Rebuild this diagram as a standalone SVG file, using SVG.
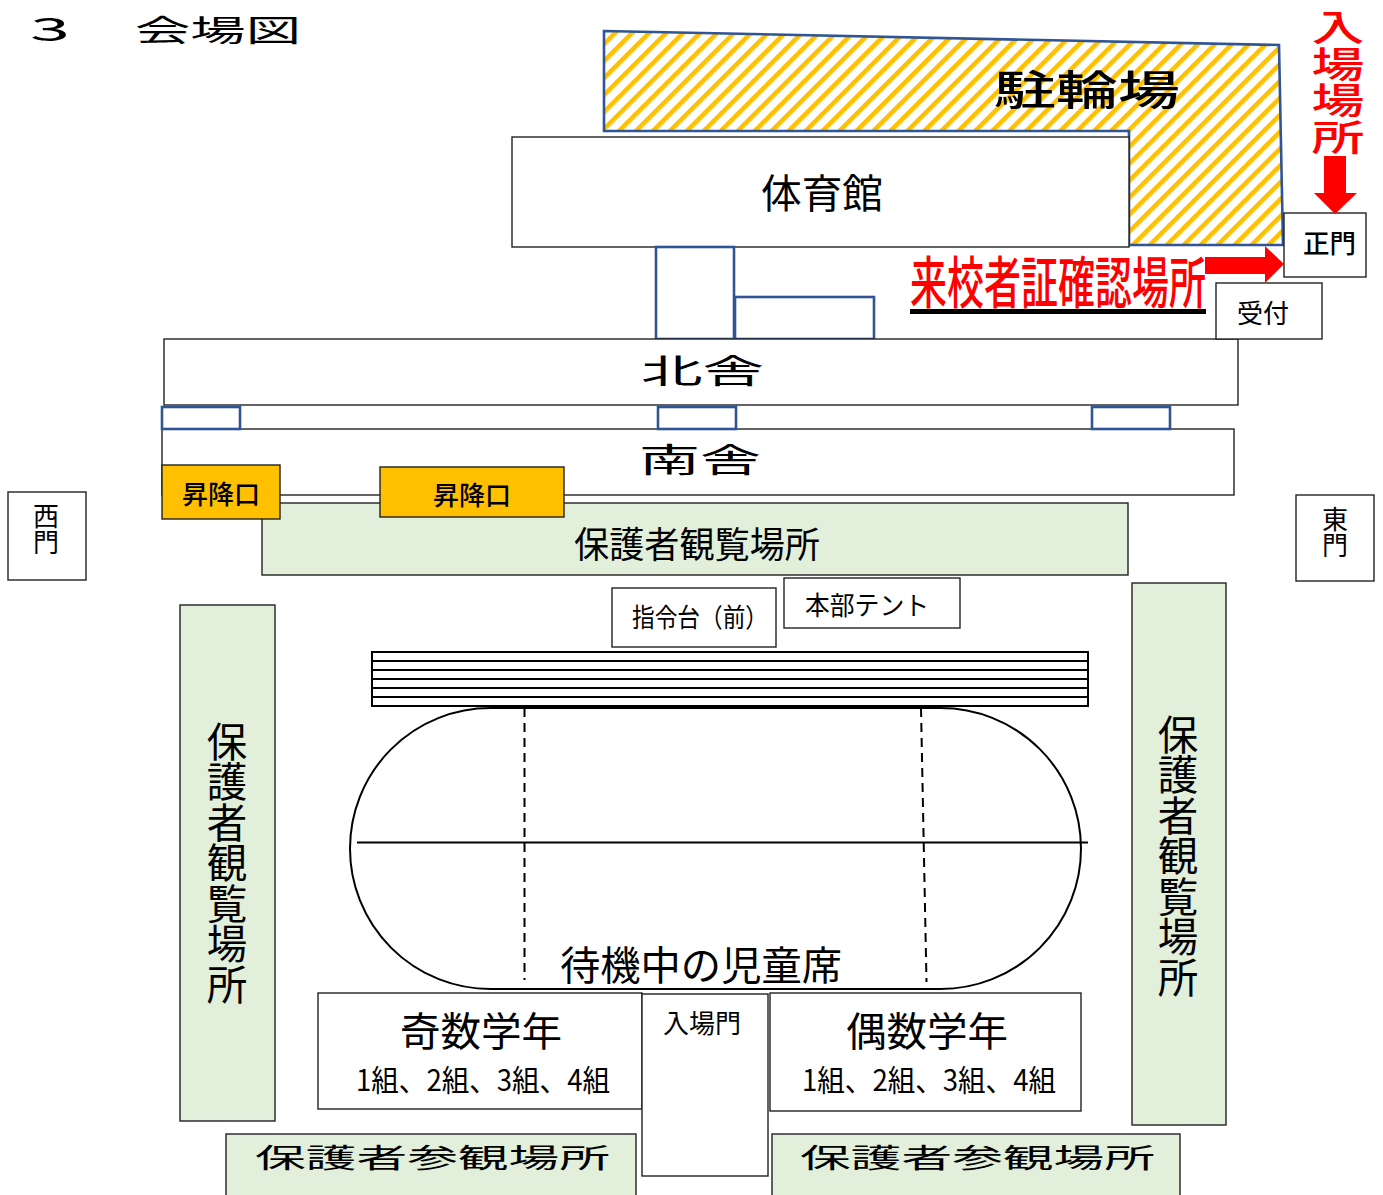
<svg xmlns="http://www.w3.org/2000/svg" width="1383" height="1195" viewBox="0 0 1383 1195">
<style>
text{font-family:"Noto Sans CJK JP","Noto Sans CJK SC",sans-serif;fill:#000;font-weight:400}
.b{fill:#fff;stroke:#222;stroke-width:1.4}
.g{fill:#e2efda;stroke:#222;stroke-width:1.4}
.o{fill:#ffc000;stroke:#222;stroke-width:1.4}
.bl{fill:#fff;stroke:#2f5597;stroke-width:2.6}
.k{fill:none;stroke:#000;stroke-width:2}
.s{fill:#fff;stroke:#000;stroke-width:2}
.d{fill:none;stroke:#000;stroke-width:2;stroke-dasharray:9 6}
.v{writing-mode:vertical-rl;text-anchor:middle}
.red{fill:#f00;font-weight:500}
.bd{font-weight:500}
</style>
<defs>
<pattern id="hatch" width="12" height="12" patternUnits="userSpaceOnUse" patternTransform="rotate(45)">
<rect width="12" height="12" fill="#fff"/><rect width="4.6" height="12" fill="#ffc000"/>
</pattern>
</defs>
<g id="title"><text x="30" y="41" font-size="32" textLength="40" lengthAdjust="spacingAndGlyphs">3</text><text x="135" y="41" font-size="30" textLength="166" lengthAdjust="spacingAndGlyphs">会場図</text></g>
<g id="bicycle"><polygon points="604,31 1279,45 1283,245 1129,245 1129,131 604,131" fill="url(#hatch)" stroke="#2f5597" stroke-width="2.6"/><text x="994" y="105" font-size="41" textLength="186" lengthAdjust="spacingAndGlyphs" class="bd">駐輪場</text></g>
<g id="gym"><rect x="512" y="137" width="617" height="110" class="b"/><text x="761" y="208" font-size="40" textLength="122" lengthAdjust="spacingAndGlyphs">体育館</text></g>
<g id="link1"><rect x="656" y="247" width="78" height="92" class="bl"/></g>
<g id="link2"><rect x="735" y="297" width="139" height="42" class="bl"/></g>
<g id="north"><rect x="164" y="339" width="1074" height="66" class="b"/><text x="641" y="383" font-size="33" textLength="123" lengthAdjust="spacingAndGlyphs">北舎</text></g>
<g id="south"><rect x="162" y="429" width="1072" height="66" class="b"/><text x="639" y="472" font-size="33" textLength="122" lengthAdjust="spacingAndGlyphs">南舎</text></g>
<g id="bridge1"><rect x="162" y="407" width="78" height="22" class="bl"/></g>
<g id="bridge2"><rect x="658" y="407" width="78" height="22" class="bl"/></g>
<g id="bridge3"><rect x="1092" y="407" width="78" height="22" class="bl"/></g>
<g id="seat-north"><rect x="262" y="503" width="866" height="72" class="g"/><text x="574" y="558" font-size="36" textLength="246" lengthAdjust="spacingAndGlyphs">保護者観覧場所</text></g>
<g id="stairs1"><rect x="162" y="465" width="118" height="54" class="o"/><text x="182" y="504" font-size="26" textLength="78" lengthAdjust="spacingAndGlyphs" class="bd">昇降口</text></g>
<g id="stairs2"><rect x="380" y="467" width="184" height="50" class="o"/><text x="433" y="505" font-size="26" textLength="78" lengthAdjust="spacingAndGlyphs" class="bd">昇降口</text></g>
<g id="west"><rect x="8" y="492" width="78" height="88" class="b"/><text x="46" y="529" font-size="26" class="v">西門</text></g>
<g id="east"><rect x="1296" y="495" width="78" height="86" class="b"/><text x="1335" y="532" font-size="26" class="v">東門</text></g>
<g id="command"><rect x="612" y="588" width="164" height="59" class="b"/><text x="632" y="627" font-size="26" textLength="136" lengthAdjust="spacingAndGlyphs">指令台（前）</text></g>
<g id="tent"><rect x="784" y="578" width="176" height="50" class="b"/><text x="805" y="615" font-size="26" textLength="124" lengthAdjust="spacingAndGlyphs">本部テント</text></g>
<g id="stands"><rect x="372" y="652" width="716" height="54" class="s"/><path class="k" d="M372 661H1088M372 670H1088M372 679H1088M372 688H1088M372 697H1088"/></g>
<g id="seat-left"><rect x="180" y="605" width="95" height="516" class="g"/><text x="227" y="863" font-size="40.500" class="v">保護者観覧場所</text></g>
<g id="seat-right"><rect x="1132" y="583" width="94" height="542" class="g"/><text x="1178" y="856" font-size="40.500" class="v">保護者観覧場所</text></g>
<g id="track"><rect x="350" y="708" width="731" height="281" rx="140.500" ry="140.500" fill="#fff" stroke="#000" stroke-width="2"/><text x="560" y="980" font-size="40" textLength="282" lengthAdjust="spacingAndGlyphs">待機中の児童席</text></g>
<g id="connectors"><path class="k" d="M357 842.500H1088"/><path class="d" d="M524.500 708V980"/><path class="d" d="M921 708L926.500 982"/></g>
<g id="odd"><rect x="318" y="993" width="324" height="116" class="b"/><text x="400" y="1046" font-size="40" textLength="162" lengthAdjust="spacingAndGlyphs">奇数学年</text><text x="356" y="1091" font-size="30" textLength="254" lengthAdjust="spacingAndGlyphs">1組、2組、3組、4組</text></g>
<g id="gate"><rect x="642" y="994" width="126" height="182" class="b"/><text x="663" y="1033" font-size="26" textLength="78" lengthAdjust="spacingAndGlyphs">入場門</text></g>
<g id="even"><rect x="770" y="993" width="311" height="118" class="b"/><text x="846" y="1046" font-size="40" textLength="162" lengthAdjust="spacingAndGlyphs">偶数学年</text><text x="802" y="1091" font-size="30" textLength="254" lengthAdjust="spacingAndGlyphs">1組、2組、3組、4組</text></g>
<g id="view-left"><rect x="226" y="1134" width="410" height="70" class="g"/><text x="255" y="1168" font-size="27" textLength="355" lengthAdjust="spacingAndGlyphs">保護者参観場所</text></g>
<g id="view-right"><rect x="772" y="1134" width="408" height="70" class="g"/><text x="800" y="1168" font-size="27" textLength="355" lengthAdjust="spacingAndGlyphs">保護者参観場所</text></g>
<g id="main-gate"><rect x="1284" y="213" width="82" height="64" class="b"/><text x="1303" y="253" font-size="26" textLength="53" lengthAdjust="spacingAndGlyphs" class="bd">正門</text></g>
<g id="reception"><rect x="1216" y="283" width="106" height="56" class="b"/><text x="1237" y="323" font-size="26" textLength="52" lengthAdjust="spacingAndGlyphs">受付</text></g>
<g id="entry"><text transform="translate(1338,9) scale(1.45,1)" font-size="36.500" class="v red" style="text-anchor:start">入場場所</text><polygon points="1324,156 1346,156 1346,193 1357,193 1335,214 1314,193 1324,193" fill="#f00"/></g>
<g id="visitor-check"><polygon points="1205,257 1265,257 1265,246 1284,264 1265,283 1265,274 1205,274" fill="#f00"/><text transform="translate(910,303) scale(0.6607,1)" font-size="56" class="red">来校者証確認場所</text><rect x="910" y="309" width="296" height="5" fill="#000"/></g>
</svg>
